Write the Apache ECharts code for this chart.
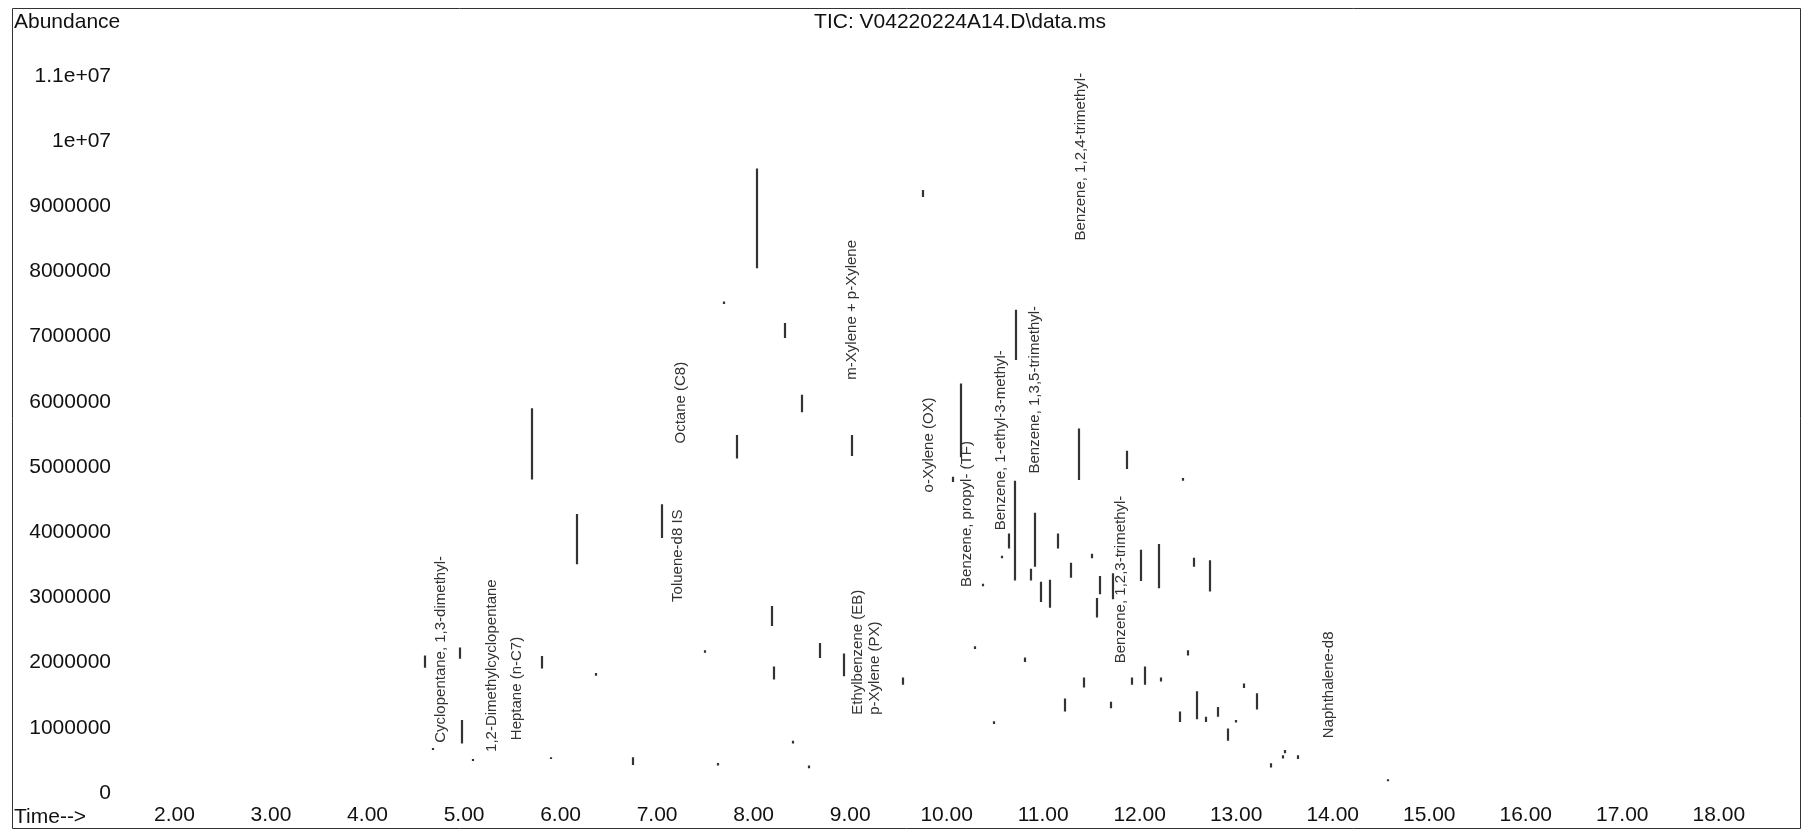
<!DOCTYPE html>
<html>
<head>
<meta charset="utf-8">
<title>TIC: V04220224A14.D\data.ms</title>
<script src="https://cdn.jsdelivr.net/npm/echarts@6/dist/echarts.min.js"></script>
<style>
  html, body { margin: 0; padding: 0; background: #ffffff; }
  #chart { width: 1802px; height: 830px; }
</style>
</head>
<body>
<div id="chart"></div>
<script>
// Visible stretches of the total ion current trace: retention time (min),
// lower and upper abundance of each vertical run of the trace.
const segTime = [
  4.594, 4.68, 4.956, 4.98, 5.094, 5.70, 5.81, 5.896, 6.175, 6.365,
  6.75, 7.05, 7.495, 7.636, 7.69, 7.83, 8.04, 8.19, 8.216, 8.32,
  8.41, 8.50, 8.575, 8.686, 8.935, 9.02, 9.55, 9.76, 10.07, 10.146,
  10.29, 10.38, 10.49, 10.57, 10.65, 10.71, 10.72, 10.81, 10.87, 10.92,
  10.98, 11.07, 11.15, 11.23, 11.29, 11.37, 11.42, 11.51, 11.56, 11.59,
  11.70, 11.72, 11.87, 11.92, 12.01, 12.06, 12.20, 12.22, 12.42, 12.45,
  12.50, 12.56, 12.59, 12.69, 12.73, 12.81, 12.92, 13.00, 13.08, 13.22,
  13.36, 13.49, 13.51, 13.64, 14.57
];
const segLow = [
  1920000, 660000, 2060000, 760000, 490000, 4810000, 1910000, 520000, 3510000, 1800000,
  430000, 3910000, 2150000, 420000, 7500000, 5130000, 8050000, 2560000, 1740000, 6980000,
  760000, 5840000, 380000, 2070000, 1790000, 5170000, 1660000, 9140000, 4770000, 5150000,
  2210000, 3170000, 1060000, 3600000, 3750000, 3260000, 6640000, 2010000, 3260000, 3470000,
  2930000, 2840000, 3750000, 1250000, 3300000, 4800000, 1620000, 3600000, 2690000, 3050000,
  1300000, 2970000, 4970000, 1660000, 3250000, 1660000, 3140000, 1710000, 1090000, 4790000,
  2110000, 3470000, 1130000, 1090000, 3090000, 1170000, 800000, 1080000, 1610000, 1280000,
  390000, 530000, 610000, 520000, 180000
];
const segHigh = [
  2110000, 690000, 2230000, 1120000, 520000, 5900000, 2100000, 550000, 4280000, 1840000,
  550000, 4430000, 2190000, 460000, 7540000, 5490000, 9580000, 2870000, 1940000, 7210000,
  800000, 6110000, 420000, 2300000, 2140000, 5490000, 1770000, 9250000, 4850000, 6280000,
  2250000, 3210000, 1100000, 3640000, 3980000, 4790000, 7410000, 2080000, 3440000, 4300000,
  3240000, 3270000, 3980000, 1450000, 3530000, 5590000, 1770000, 3670000, 2990000, 3330000,
  1400000, 3370000, 5250000, 1770000, 3730000, 1940000, 3820000, 1770000, 1250000, 4830000,
  2190000, 3610000, 1560000, 1170000, 3570000, 1320000, 990000, 1120000, 1680000, 1530000,
  455000, 580000, 660000, 580000, 210000
];

// Peak annotations: retention time, abundance where the text starts, compound name.
const peakTime = [4.76, 5.29, 5.55, 7.22, 7.25, 9.02, 9.08, 9.26, 9.82, 10.21, 10.56, 10.91, 11.39, 11.80, 13.96];
const peakBase = [770000, 630000, 810000, 2930000, 5360000, 6340000, 1200000, 1200000, 4610000, 3160000, 4030000, 4900000, 8475000, 1990000, 840000];
const peakName = [
  'Cyclopentane, 1,3-dimethyl-',
  '1,2-Dimethylcyclopentane',
  'Heptane (n-C7)',
  'Toluene-d8 IS',
  'Octane (C8)',
  'm-Xylene + p-Xylene',
  'Ethylbenzene (EB)',
  'p-Xylene (PX)',
  'o-Xylene (OX)',
  'Benzene, propyl- (TF)',
  'Benzene, 1-ethyl-3-methyl-',
  'Benzene, 1,3,5-trimethyl-',
  'Benzene, 1,2,4-trimethyl-',
  'Benzene, 1,2,3-trimethyl-',
  'Naphthalene-d8'
];

// Axis ticks
const xTicks = [2, 3, 4, 5, 6, 7, 8, 9, 10, 11, 12, 13, 14, 15, 16, 17, 18];
const yTickValues = [0, 1000000, 2000000, 3000000, 4000000, 5000000, 6000000, 7000000, 8000000, 9000000, 10000000, 11000000];
const yTickLabels = ['0', '1000000', '2000000', '3000000', '4000000', '5000000', '6000000', '7000000', '8000000', '9000000', '1e+07', '1.1e+07'];

const FONT = '"Liberation Sans", Arial, sans-serif';
const INK = '#111111';

const chart = echarts.init(document.getElementById('chart'), null, { renderer: 'canvas' });

chart.setOption({
  backgroundColor: '#ffffff',
  animation: false,
  grid: { left: 78, right: 6, top: 10.6, bottom: 37, containLabel: false },
  xAxis: {
    type: 'value',
    min: 1,
    max: 18.8,
    interval: 1,
    axisLine: { show: false },
    axisTick: { show: false },
    splitLine: { show: false },
    axisLabel: {
      margin: 12,
      fontFamily: FONT,
      fontSize: 21,
      color: INK,
      formatter: v => (xTicks.indexOf(v) >= 0 ? v.toFixed(2) : '')
    }
  },
  yAxis: {
    type: 'value',
    min: 0,
    max: 12000000,
    interval: 1000000,
    axisLine: { show: false },
    axisTick: { show: false },
    splitLine: { show: false },
    axisLabel: {
      margin: -33,
      fontFamily: FONT,
      fontSize: 21,
      color: INK,
      formatter: v => {
        const i = yTickValues.indexOf(v);
        return i >= 0 ? yTickLabels[i] : '';
      }
    }
  },
  graphic: [
    { type: 'rect', silent: true, shape: { x: 12.5, y: 8.5, width: 1788, height: 820 },
      style: { fill: 'none', stroke: '#333333', lineWidth: 1 } },
    { type: 'text', x: 14, y: 22, style: { text: 'Abundance', font: '21px ' + FONT, fill: INK, verticalAlign: 'middle', align: 'left' } },
    { type: 'text', x: 960, y: 22, style: { text: 'TIC: V04220224A14.D\\data.ms', font: '21px ' + FONT, fill: INK, verticalAlign: 'middle', align: 'center' } },
    { type: 'text', x: 14, y: 817, style: { text: 'Time-->', font: '21px ' + FONT, fill: INK, verticalAlign: 'middle', align: 'left' } }
  ],
  series: [
    {
      type: 'custom',
      name: 'TIC',
      silent: true,
      clip: true,
      data: segTime.map((t, i) => [t, segLow[i], segHigh[i]]),
      encode: { x: 0, y: [1, 2] },
      renderItem: (params, api) => {
        const a = api.coord([api.value(0), api.value(1)]);
        const b = api.coord([api.value(0), api.value(2)]);
        const x = Math.round(a[0]);
        return {
          type: 'line',
          shape: { x1: x, y1: a[1], x2: x, y2: b[1] },
          style: { stroke: '#333333', lineWidth: 2.2 }
        };
      }
    },
    {
      type: 'custom',
      name: 'Peaks',
      silent: true,
      data: peakTime.map((t, i) => [t, peakBase[i]]),
      encode: { x: 0, y: 1 },
      renderItem: (params, api) => {
        const p = api.coord([api.value(0), api.value(1)]);
        return {
          type: 'text',
          x: p[0],
          y: p[1],
          rotation: Math.PI / 2,
          style: {
            text: peakName[params.dataIndex],
            font: '15px ' + FONT,
            fill: '#333333',
            align: 'left',
            verticalAlign: 'middle'
          }
        };
      }
    }
  ]
});
</script>
</body>
</html>
